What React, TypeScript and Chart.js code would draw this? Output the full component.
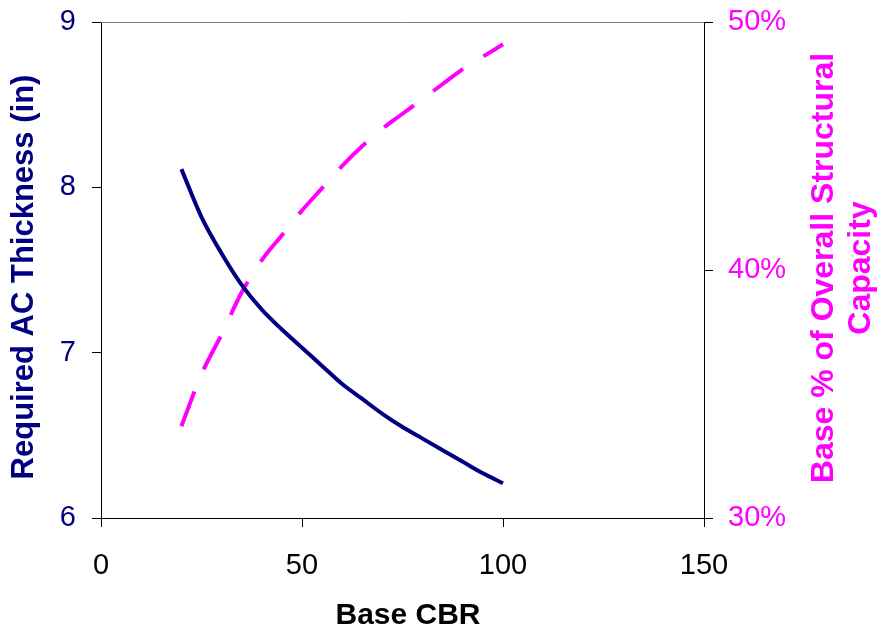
import React, { useEffect, useRef } from "react";
import { Chart, registerables } from "chart.js";

Chart.register(...registerables);

// ---- data ----
const cbr = [20, 25, 30, 35, 40, 45, 50, 55, 60, 65, 70, 75, 80, 85, 90, 95, 100];
const acThickness = [8.11, 7.82, 7.6, 7.41, 7.26, 7.14, 7.03, 6.92, 6.81, 6.72, 6.63, 6.55, 6.48, 6.41, 6.34, 6.27, 6.21];
const basePercent = [33.7, 35.8, 37.4, 39.1, 40.4, 41.4, 42.4, 43.3, 44.2, 45.0, 45.7, 46.3, 46.9, 47.5, 48.1, 48.6, 49.1];

const xTicks = [0, 50, 100, 150];
const leftTicks = [6, 7, 8, 9];
const rightTicks = [30, 40, 50];

const xTitle = "Base CBR";
const leftTitle = "Required AC Thickness (in)";
const rightTitleLines = ["Base % of Overall Structural", "Capacity"];

const NAVY = "#000080";
const MAGENTA = "#FF00FF";
const FONT = "'Liberation Sans', Arial, Helvetica, sans-serif";

const titlesPlugin = {
  id: "customTitles",
  beforeDatasetsDraw(chart: any) {
    const { ctx, chartArea } = chart;
    ctx.save();
    ctx.strokeStyle = "#808080";
    ctx.lineWidth = 1;
    ctx.beginPath();
    ctx.moveTo(chartArea.left, Math.round(chartArea.top) + 0.5);
    ctx.lineTo(chartArea.right, Math.round(chartArea.top) + 0.5);
    ctx.stroke();
    ctx.restore();
  },
  afterDraw(chart: any) {
    const { ctx } = chart;
    ctx.save();
    ctx.textAlign = "center";
    ctx.textBaseline = "middle";

    // left title
    ctx.font = `bold 31px ${FONT}`;
    ctx.fillStyle = NAVY;
    ctx.save();
    ctx.translate(24, 277);
    ctx.rotate(-Math.PI / 2);
    ctx.fillText(leftTitle, 0, 0);
    ctx.restore();

    // bottom title
    ctx.font = `bold 30px ${FONT}`;
    ctx.fillStyle = "#000000";
    ctx.fillText(xTitle, 408, 616);

    // right title (reads bottom to top)
    ctx.font = `bold 32px ${FONT}`;
    ctx.fillStyle = MAGENTA;
    const xs = [824, 861];
    rightTitleLines.forEach((line, i) => {
      ctx.save();
      ctx.translate(xs[i], 268);
      ctx.rotate(-Math.PI / 2);
      ctx.fillText(line, 0, 0);
      ctx.restore();
    });
    ctx.restore();
  },
};

const noPadY = (w: number) => (s: any) => {
  s.width = w;
  s.paddingTop = 0;
  s.paddingBottom = 0;
};

export default function App() {
  const canvasRef = useRef<HTMLCanvasElement | null>(null);

  useEffect(() => {
    if (!canvasRef.current) return;
    const chart = new Chart(canvasRef.current, {
      type: "line",
      data: {
        datasets: [
          {
            label: "Required AC Thickness",
            data: cbr.map((x, i) => ({ x, y: acThickness[i] })),
            yAxisID: "y",
            borderColor: NAVY,
            backgroundColor: NAVY,
            borderWidth: 4,
            pointRadius: 0,
            tension: 0.4,
            cubicInterpolationMode: "monotone",
            fill: false,
          },
          {
            label: "Base % of Overall Structural Capacity",
            data: cbr.map((x, i) => ({ x, y: basePercent[i] })),
            yAxisID: "y1",
            borderColor: MAGENTA,
            backgroundColor: MAGENTA,
            borderWidth: 4,
            borderDash: [37, 24],
            pointRadius: 0,
            tension: 0.4,
            cubicInterpolationMode: "monotone",
            fill: false,
          },
        ],
      },
      options: {
        responsive: false,
        animation: false,
        layout: { padding: { top: 22, left: 0, right: 0, bottom: 0 } },
        plugins: {
          legend: { display: false },
          tooltip: { enabled: false },
        },
        scales: {
          x: {
            type: "linear",
            min: 0,
            max: 150,
            afterBuildTicks: (s: any) => {
              s.ticks = xTicks.map((v) => ({ value: v }));
            },
            afterFit: (s: any) => {
              s.height = 116;
              s.paddingLeft = 0;
              s.paddingRight = 0;
            },
            ticks: {
              color: "#000000",
              font: { family: FONT, size: 29 },
              padding: 22,
              maxRotation: 0,
            },
            grid: {
              drawOnChartArea: false,
              drawTicks: true,
              tickLength: 9,
              color: "#000000",
            },
            border: { display: true, color: "#000000", width: 1 },
          },
          y: {
            type: "linear",
            position: "left",
            min: 6,
            max: 9,
            afterBuildTicks: (s: any) => {
              s.ticks = leftTicks.map((v) => ({ value: v }));
            },
            afterFit: noPadY(101),
            ticks: {
              color: NAVY,
              font: { family: FONT, size: 29 },
              padding: 16,
            },
            grid: {
              drawOnChartArea: false,
              drawTicks: true,
              tickLength: 9,
              color: "#000000",
            },
            border: { display: true, color: "#000000", width: 1 },
          },
          y1: {
            type: "linear",
            position: "right",
            min: 30,
            max: 50,
            afterBuildTicks: (s: any) => {
              s.ticks = rightTicks.map((v) => ({ value: v }));
            },
            afterFit: noPadY(182),
            ticks: {
              color: MAGENTA,
              font: { family: FONT, size: 29 },
              padding: 15,
              callback: (v: any) => `${v}%`,
            },
            grid: {
              drawOnChartArea: false,
              drawTicks: true,
              tickLength: 9,
              color: "#000000",
            },
            border: { display: true, color: "#000000", width: 1 },
          },
        },
      },
      plugins: [titlesPlugin],
    });
    return () => chart.destroy();
  }, []);

  return (
    <div style={{ position: "fixed", left: 0, top: 0, width: 886, height: 634, background: "#ffffff" }}>
      <canvas ref={canvasRef} width={886} height={634} style={{ width: 886, height: 634, display: "block" }} />
    </div>
  );
}
